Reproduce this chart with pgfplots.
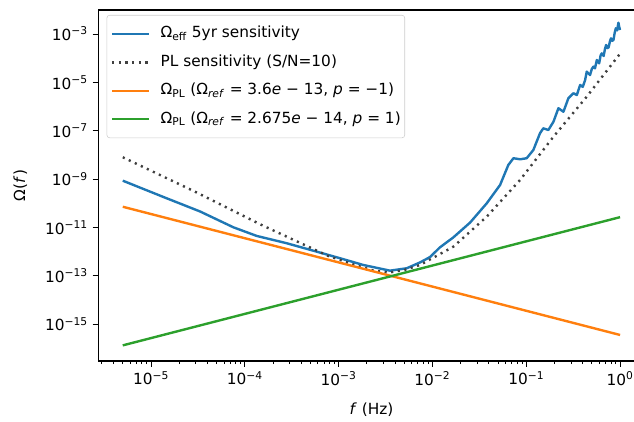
\documentclass[border=0pt]{standalone}
\usepackage{fontspec}
\setmainfont{DejaVu Sans}
\usepackage{pgfplots}
\pgfplotsset{compat=1.18}
\definecolor{mplblue}{HTML}{1F77B4}
\definecolor{mplorange}{HTML}{FF7F0E}
\definecolor{mplgreen}{HTML}{2CA02C}
\newcommand\mplfont{\fontsize{11.5}{13.8}\selectfont}
\newcommand\dec[1]{10\textsuperscript{#1}}

\begin{document}
\begin{tikzpicture}
\begin{axis}[
    at={(0pt,0pt)}, anchor=south west,
    scale only axis,
    width=410pt, height=263.25pt,
    xmode=log, ymode=log,
    xmin=2.74e-6, xmax=1.84,
    ymin=3.02e-17, ymax=9.8e-3,
    xtick={1e-5,1e-4,1e-3,1e-2,1e-1,1},
    xticklabels={{\dec{−5}},{\dec{−4}},{\dec{−3}},{\dec{−2}},{\dec{−1}},{\dec{0}}},
    minor xtick={3e-6,4e-6,5e-6,6e-6,7e-6,8e-6,9e-6,
                 2e-5,3e-5,4e-5,5e-5,6e-5,7e-5,8e-5,9e-5,
                 2e-4,3e-4,4e-4,5e-4,6e-4,7e-4,8e-4,9e-4,
                 2e-3,3e-3,4e-3,5e-3,6e-3,7e-3,8e-3,9e-3,
                 2e-2,3e-2,4e-2,5e-2,6e-2,7e-2,8e-2,9e-2,
                 0.2,0.3,0.4,0.5,0.6,0.7,0.8,0.9},
    ytick={1e-15,1e-13,1e-11,1e-9,1e-7,1e-5,1e-3},
    yticklabels={{\dec{−15}},{\dec{−13}},{\dec{−11}},{\dec{−9}},{\dec{−7}},{\dec{−5}},{\dec{−3}}},
    minor ytick={},
    tick align=outside, tick pos=left,
    major tick length=4.2pt, minor tick length=2.4pt,
    every tick/.style={black, line width=0.7pt},
    axis line style={line width=0.8pt},
    tick label style={font=\mplfont},
    xlabel={\textit{f} (Hz)},
    ylabel={Ω(\textit{f})},
    every axis x label/.style={at={(rel axis cs:0.5,0)}, yshift=-36.75pt, anchor=center, font=\mplfont},
    every axis y label/.style={at={(rel axis cs:0,0.5)}, xshift=-58.5pt, rotate=90, anchor=center, font=\mplfont},
    legend cell align=left,
    legend image code/.code={\draw[#1] (0pt,0pt) -- (27.5pt,0pt);},
    legend style={at={(0.0154,0.9858)}, anchor=north west,
        draw=black!20, rounded corners=2pt, fill=white, fill opacity=0.8, text opacity=1,
        font=\mplfont, inner xsep=3pt, inner ysep=8pt, row sep=9.3pt,
        nodes={inner sep=0pt, text height=9pt, text depth=3pt},
        /tikz/every odd column/.append style={column sep=8pt},
        /tikz/every even column/.append style={column sep=0pt}},
]
% Omega_eff 5yr sensitivity
\addplot[mplblue, line width=1.8pt, line join=round] coordinates {
(5e-6,8.6e-10) (1.47e-5,1.61e-10) (3.33e-5,4.6e-11) (7.54e-5,1.02e-11)
(1.34e-4,4.47e-12) (2.80e-4,2.23e-12) (5.85e-4,1.0e-12) (1.035e-3,5.35e-13)
(1.83e-3,2.82e-13) (3.53e-3,1.64e-13) (5.32e-3,2.06e-13) (7.38e-3,3.6e-13)
(9.42e-3,6.0e-13) (1.2e-2,1.5e-12) (1.67e-2,3.9e-12) (2.52e-2,1.6e-11)
(3.79e-2,1.0e-10) (5.26e-2,5.73e-10) (6.44e-2,3.85e-9) (7.3e-2,7.3e-9)
(8.59e-2,6.6e-9) (0.101,7.3e-9) (0.119,1.6e-8) (0.140,7.85e-8)
(0.152,1.26e-7) (0.172,1.07e-7) (0.195,2.37e-7) (0.22,8.5e-7)
(0.249,6.1e-7) (0.281,2.2e-6) (0.318,3.54e-6) (0.346,3.0e-6)
(0.375,7.8e-6) (0.40,6.5e-6) (0.424,1.25e-5) (0.441,2.77e-5) (0.478,2.0e-5)
(0.50,3.6e-5) (0.519,4.46e-5) (0.54,3.8e-5) (0.565,8.4e-5) (0.598,6.1e-5) (0.62,1.3e-4) (0.638,1.58e-4)
(0.668,1.23e-4) (0.69,2.4e-4) (0.71,3.5e-4) (0.735,2.6e-4) (0.755,2.82e-4) (0.78,5.0e-4) (0.80,6.6e-4)
(0.825,5.2e-4) (0.85,5.65e-4) (0.875,1.1e-3) (0.9,1.72e-3) (0.93,1.4e-3) (0.96,2.93e-3) (0.98,1.9e-3) (1.0,1.46e-3)
};
\addlegendentry{Ω\textsubscript{eff} 5yr sensitivity}
% PL sensitivity (S/N=10)
\addplot[black!75, line width=1.8pt, dash pattern=on 1.6pt off 3.4pt] coordinates {
(5e-6,8.0e-9) (2.94e-5,3.03e-10) (1.51e-4,1.27e-11) (7.76e-4,6.65e-13)
(1.5e-3,2.8e-13) (2.3e-3,1.7e-13) (3.39e-3,1.36e-13) (5e-3,1.74e-13)
(7.38e-3,2.82e-13) (1.67e-2,1.61e-12) (3.79e-2,2.80e-11) (8.59e-2,9.2e-10)
(0.195,5.68e-8) (0.441,2.56e-6) (1.0,1.54e-4)
};
\addlegendentry{PL sensitivity (S/N=10)}
% power law p = -1
\addplot[mplorange, line width=1.8pt] coordinates {
(5e-6,7.2e-11) (1e-3,3.6e-13) (1.0,3.6e-16)
};
\addlegendentry{Ω\textsubscript{PL} (Ω\textsubscript{\textit{ref}} = 3.6\textit{e} − 13, \textit{p} = −1)}
% power law p = 1
\addplot[mplgreen, line width=1.8pt] coordinates {
(5e-6,1.3375e-16) (1e-3,2.675e-14) (1.0,2.675e-11)
};
\addlegendentry{Ω\textsubscript{PL} (Ω\textsubscript{\textit{ref}} = 2.675\textit{e} − 14, \textit{p} = 1)}
\end{axis}
\pgfresetboundingbox
\path[use as bounding box] (-73.7pt,-45pt) rectangle (401.8pt,270.75pt);
\end{tikzpicture}
\end{document}
